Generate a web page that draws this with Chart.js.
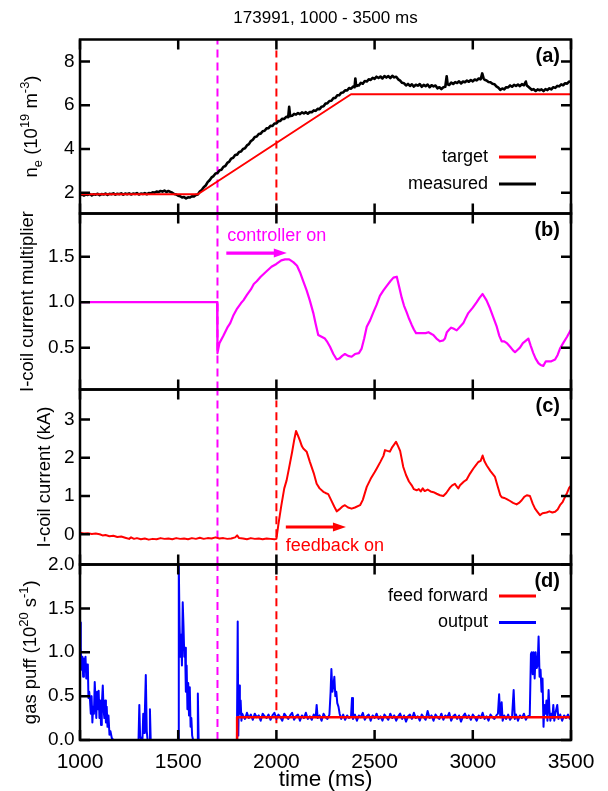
<!DOCTYPE html>
<html><head><meta charset="utf-8">
<script src="https://cdn.jsdelivr.net/npm/chart.js@4.4.0/dist/chart.umd.min.js"></script>
<style>
html,body{margin:0;padding:0;background:#fff;}
#wrap{position:relative;width:608px;height:791px;background:#fff;}
canvas{position:absolute;left:0;top:0;}
</style></head><body><div id="wrap">
<canvas id="ca" width="608" height="791"></canvas>
<canvas id="cb" width="608" height="791"></canvas>
<canvas id="cc" width="608" height="791"></canvas>
<canvas id="cd" width="608" height="791"></canvas>
</div>
<script>
// ---------------- data ----------------
const xTicks = [1000, 1500, 2000, 2500, 3000, 3500];
const densityTicks = [2, 4, 6, 8];
const multiplierTicks = [0.5, 1.0, 1.5];
const currentTicks = [0, 1, 2, 3];
const gasTicks = [0, 0.5, 1.0, 1.5, 2.0];
const controllerOnTime = 1700;
const feedbackOnTime = 2000;

const densityTarget = [[1000,1.93],[1600,1.93],[2380,6.5],[3500,6.5]];
const densityMeasured = [
[1000,1.88],[1010,1.93],[1020,1.87],[1030,1.92],[1040,1.90],[1050,1.94],[1060,1.88],[1070,1.93],[1080,1.91],[1090,1.95],
[1100,1.89],[1110,1.94],[1120,1.92],[1130,1.96],[1140,1.90],[1150,1.95],[1160,1.93],[1170,1.97],[1180,1.91],[1190,1.95],
[1200,1.93],[1210,1.97],[1220,1.91],[1230,1.96],[1240,1.93],[1250,1.97],[1260,1.92],[1270,1.96],[1280,1.94],[1290,1.98],
[1300,1.92],[1310,1.96],[1320,1.94],[1330,1.98],[1340,1.93],[1350,1.98],[1360,1.97],[1370,2.02],[1380,2.00],[1390,2.05],
[1400,2.03],[1410,2.08],[1420,2.05],[1430,2.10],[1440,2.03],[1450,2.08],[1460,2.04],[1470,2.00],[1480,1.94],[1490,1.92],
[1500,1.86],[1510,1.84],[1520,1.78],[1530,1.80],[1540,1.74],[1550,1.79],[1560,1.78],[1570,1.84],[1580,1.83],[1590,1.90],
[1600,1.92],[1610,2.05],[1620,2.12],[1630,2.25],[1640,2.33],[1650,2.48],[1660,2.57],[1670,2.70],[1680,2.76],[1690,2.88],
[1700,2.90],[1710,3.02],[1720,3.05],[1730,3.18],[1740,3.22],[1750,3.36],[1760,3.42],[1770,3.56],[1780,3.60],[1790,3.72],
[1800,3.74],[1810,3.86],[1820,3.88],[1830,4.00],[1840,4.03],[1850,4.16],[1860,4.22],[1870,4.36],[1880,4.42],[1890,4.55],
[1900,4.57],[1910,4.68],[1920,4.70],[1930,4.81],[1940,4.83],[1950,4.94],[1960,4.95],[1970,5.06],[1980,5.05],[1990,5.16],
[2000,5.16],[2010,5.27],[2020,5.28],[2030,5.38],[2040,5.37],[2050,5.47],[2060,5.45],[2065,5.92],[2070,5.50],[2080,5.52],
[2090,5.60],[2100,5.57],[2110,5.64],[2120,5.59],[2130,5.67],[2140,5.62],[2150,5.68],[2160,5.61],[2170,5.69],[2180,5.68],
[2190,5.76],[2200,5.74],[2210,5.83],[2220,5.82],[2230,5.93],[2240,5.95],[2250,6.07],[2260,6.09],[2270,6.19],[2280,6.20],
[2290,6.32],[2300,6.33],[2310,6.45],[2320,6.45],[2330,6.57],[2340,6.58],[2350,6.68],[2360,6.67],[2370,6.78],[2380,6.75],
[2390,6.85],[2398,6.82],[2402,7.22],[2406,6.88],[2410,6.92],[2420,6.90],[2430,7.02],[2440,6.98],[2450,7.10],[2460,7.08],
[2470,7.18],[2480,7.15],[2490,7.25],[2500,7.20],[2510,7.30],[2520,7.24],[2530,7.31],[2540,7.22],[2550,7.33],[2560,7.26],
[2570,7.33],[2580,7.24],[2590,7.34],[2600,7.27],[2610,7.30],[2620,7.18],[2630,7.12],[2640,7.02],[2650,7.00],[2660,6.90],
[2670,6.97],[2680,6.88],[2690,6.95],[2700,6.85],[2710,6.93],[2720,6.89],[2730,6.96],[2740,6.84],[2750,6.93],[2760,6.87],
[2770,6.94],[2780,6.82],[2790,6.91],[2800,6.86],[2810,6.90],[2820,6.77],[2830,6.82],[2840,6.73],[2850,6.82],[2860,6.84],
[2867,7.32],[2872,6.95],[2880,6.92],[2890,7.03],[2900,6.97],[2910,7.05],[2920,7.01],[2930,7.09],[2940,6.99],[2950,7.08],
[2960,7.05],[2970,7.12],[2980,7.07],[2990,7.15],[3000,7.09],[3010,7.17],[3020,7.13],[3030,7.22],[3040,7.18],[3048,7.45],
[3055,7.22],[3060,7.16],[3070,7.13],[3080,7.06],[3090,7.05],[3100,6.98],[3110,6.96],[3120,6.86],[3130,6.80],[3140,6.70],
[3150,6.76],[3160,6.72],[3170,6.82],[3180,6.81],[3190,6.90],[3200,6.84],[3210,6.93],[3220,6.88],[3230,6.94],[3240,6.87],
[3250,6.96],[3260,6.91],[3270,7.08],[3275,6.90],[3280,6.86],[3290,6.78],[3300,6.70],[3310,6.73],[3320,6.65],[3330,6.72],
[3340,6.68],[3350,6.72],[3360,6.64],[3370,6.73],[3380,6.69],[3390,6.77],[3400,6.72],[3410,6.82],[3420,6.79],[3430,6.88],
[3440,6.86],[3450,6.95],[3460,6.91],[3470,7.00],[3480,6.98],[3490,7.08],[3500,7.06]];

const coilMultiplier = [
[1000,1.0],[1698,1.0],[1700,0.44],[1710,0.55],[1730,0.63],[1750,0.72],[1765,0.77],[1780,0.85],[1800,0.93],[1820,0.99],
[1832,1.02],[1850,1.08],[1870,1.14],[1885,1.20],[1900,1.23],[1920,1.28],[1950,1.34],[1975,1.39],[2000,1.42],[2025,1.46],
[2044,1.47],[2065,1.47],[2086,1.44],[2105,1.40],[2120,1.33],[2137,1.23],[2154,1.13],[2170,1.02],[2188,0.88],[2200,0.76],
[2213,0.64],[2230,0.62],[2247,0.60],[2260,0.56],[2273,0.51],[2290,0.43],[2307,0.37],[2320,0.38],[2335,0.41],[2349,0.43],
[2365,0.41],[2383,0.40],[2400,0.43],[2420,0.44],[2434,0.49],[2447,0.60],[2460,0.73],[2477,0.80],[2494,0.89],[2510,0.97],
[2527,1.07],[2545,1.13],[2562,1.18],[2580,1.23],[2596,1.27],[2613,1.28],[2625,1.17],[2638,1.05],[2650,0.96],[2663,0.89],
[2675,0.82],[2689,0.75],[2700,0.70],[2711,0.66],[2740,0.66],[2760,0.66],[2774,0.67],[2790,0.65],[2799,0.64],[2815,0.60],
[2833,0.57],[2850,0.58],[2858,0.60],[2868,0.67],[2880,0.70],[2890,0.72],[2901,0.71],[2918,0.69],[2935,0.73],[2952,0.77],
[2965,0.83],[2977,0.88],[3000,0.94],[3020,1.00],[3035,1.05],[3050,1.09],[3070,1.02],[3088,0.93],[3105,0.83],[3122,0.73],
[3135,0.63],[3147,0.57],[3160,0.57],[3173,0.55],[3190,0.51],[3205,0.47],[3215,0.45],[3230,0.48],[3240,0.50],[3255,0.55],
[3266,0.57],[3283,0.60],[3295,0.52],[3308,0.44],[3320,0.38],[3334,0.33],[3345,0.31],[3359,0.30],[3372,0.35],[3385,0.35],
[3400,0.35],[3419,0.37],[3432,0.42],[3444,0.49],[3460,0.55],[3480,0.62],[3500,0.70]];

const coilCurrent = [
[1000,0.04],[1020,0.02],[1040,0.03],[1060,0.01],[1080,0.02],[1100,0.0],[1115,-0.03],[1130,-0.02],[1150,-0.05],[1170,-0.04],
[1190,-0.07],[1210,-0.06],[1230,-0.09],[1250,-0.12],[1260,-0.08],[1275,-0.12],[1290,-0.10],[1310,-0.13],[1330,-0.11],[1350,-0.14],
[1370,-0.12],[1390,-0.13],[1410,-0.10],[1430,-0.12],[1450,-0.11],[1470,-0.13],[1490,-0.10],[1510,-0.12],[1530,-0.11],[1550,-0.13],
[1570,-0.10],[1590,-0.12],[1610,-0.09],[1630,-0.12],[1650,-0.10],[1670,-0.11],[1690,-0.08],[1710,-0.11],[1730,-0.10],[1750,-0.12],
[1770,-0.11],[1790,-0.08],[1800,-0.03],[1810,-0.10],[1830,-0.11],[1850,-0.13],[1870,-0.10],[1890,-0.12],[1910,-0.11],[1930,-0.13],
[1950,-0.11],[1970,-0.12],[1990,-0.13],[2000,-0.12],[2010,0.25],[2025,0.75],[2040,1.20],[2052,1.41],[2065,1.75],[2080,2.15],
[2090,2.45],[2100,2.70],[2110,2.58],[2120,2.45],[2130,2.30],[2137,2.24],[2154,2.16],[2170,1.90],[2190,1.60],[2205,1.32],
[2220,1.20],[2239,1.11],[2250,1.08],[2264,1.05],[2280,0.88],[2295,0.72],[2307,0.60],[2320,0.65],[2335,0.72],[2349,0.76],
[2365,0.70],[2383,0.67],[2400,0.70],[2426,0.76],[2440,0.90],[2460,1.24],[2480,1.45],[2500,1.62],[2511,1.72],[2530,1.90],
[2545,2.05],[2553,2.20],[2565,2.18],[2578,2.16],[2590,2.28],[2600,2.35],[2609,2.42],[2620,2.30],[2630,2.18],[2646,1.76],
[2660,1.55],[2675,1.38],[2689,1.28],[2700,1.18],[2714,1.15],[2725,1.18],[2735,1.12],[2745,1.20],[2755,1.13],[2770,1.17],
[2785,1.12],[2800,1.10],[2816,1.06],[2833,1.02],[2850,1.00],[2865,1.08],[2884,1.22],[2895,1.28],[2909,1.32],[2918,1.25],
[2926,1.20],[2935,1.28],[2943,1.32],[2955,1.38],[2969,1.43],[2985,1.58],[3003,1.72],[3015,1.80],[3028,1.89],[3040,1.92],
[3050,2.06],[3060,1.90],[3071,1.80],[3090,1.65],[3113,1.50],[3125,1.28],[3140,1.02],[3147,0.97],[3160,0.95],[3173,0.92],
[3190,0.87],[3205,0.82],[3223,0.78],[3235,0.82],[3249,0.89],[3262,0.98],[3275,1.02],[3291,1.00],[3305,0.80],[3317,0.67],
[3330,0.58],[3342,0.50],[3355,0.55],[3376,0.57],[3390,0.60],[3405,0.57],[3419,0.59],[3432,0.65],[3444,0.76],[3458,0.85],
[3469,0.97],[3480,1.08],[3491,1.22],[3500,1.27]];

const gasFeedForward = [[1800,0],[1800,0.26],[3500,0.26]];
const gasOutput = [
[1000,1.34],[1004,1.05],[1008,0.80],[1012,0.95],[1016,0.72],[1020,0.93],[1024,0.78],[1028,0.95],[1032,0.70],[1036,0.86],
[1040,0.85],[1043,0.48],[1047,0.55],[1051,0.45],[1055,0.30],[1059,0.50],[1063,0.20],[1067,0.38],[1071,0.30],[1075,0.66],
[1079,0.45],[1083,0.25],[1087,0.55],[1091,0.35],[1095,0.56],[1099,0.25],[1103,0.45],[1107,0.17],[1111,0.40],[1116,0.62],
[1120,0.35],[1124,0.25],[1128,0.45],[1132,0.20],[1136,0.38],[1140,0.15],[1145,0.28],[1150,0.06],[1155,0.10],[1162,0.02],
[1170,0.0],[1298,0.0],[1302,0.40],[1306,0.05],[1311,0.0],[1318,0.0],[1322,0.30],[1326,0.08],[1330,0.30],[1335,0.74],
[1340,0.10],[1344,0.0],[1352,0.0],[1356,0.35],[1360,0.0],[1499,0.0],[1503,1.99],[1507,1.30],[1511,0.95],[1515,1.20],
[1519,0.85],[1523,1.57],[1527,1.30],[1531,0.95],[1535,1.05],[1539,0.55],[1543,0.85],[1547,0.35],[1551,0.65],[1555,0.28],
[1559,0.60],[1563,0.15],[1567,0.25],[1571,0.05],[1576,0.0],[1596,0.0],[1600,0.53],[1604,0.0],[1799,0.0],[1803,1.35],
[1806,0.05],[1810,0.62],[1814,0.30],[1818,0.45],[1822,0.22],[1826,0.30],
[1830,0.28],[1840,0.24],[1850,0.31],[1860,0.25],[1870,0.29],[1880,0.23],[1890,0.30],[1900,0.26],[1910,0.28],[1920,0.22],
[1930,0.30],[1940,0.27],[1950,0.25],[1960,0.29],[1970,0.23],[1980,0.28],[1990,0.31],[2000,0.24],[2010,0.29],[2020,0.26],
[2030,0.22],[2040,0.30],[2050,0.27],[2060,0.24],[2070,0.28],[2080,0.31],[2090,0.23],[2100,0.27],[2110,0.29],[2120,0.22],
[2130,0.28],[2140,0.25],[2150,0.31],[2160,0.24],[2170,0.27],[2180,0.23],[2190,0.29],[2200,0.26],[2205,0.40],[2210,0.25],
[2220,0.28],[2230,0.22],[2240,0.30],[2250,0.26],[2260,0.24],[2270,0.29],[2276,0.55],[2280,0.81],[2285,0.55],[2290,0.62],
[2295,0.72],[2300,0.50],[2305,0.55],[2310,0.42],[2316,0.38],[2322,0.30],[2330,0.24],[2340,0.29],[2350,0.23],[2360,0.28],
[2370,0.25],[2380,0.27],[2385,0.48],[2390,0.24],[2400,0.29],[2410,0.22],[2420,0.28],[2430,0.26],[2440,0.31],[2450,0.23],
[2460,0.27],[2470,0.29],[2480,0.22],[2490,0.28],[2500,0.25],[2510,0.30],[2520,0.24],[2530,0.27],[2540,0.22],[2550,0.29],
[2560,0.26],[2570,0.23],[2580,0.30],[2590,0.25],[2600,0.28],[2610,0.22],[2620,0.27],[2630,0.30],[2640,0.24],[2650,0.28],
[2660,0.21],[2670,0.27],[2680,0.29],[2690,0.24],[2700,0.31],[2710,0.25],[2720,0.27],[2730,0.22],[2740,0.29],[2750,0.26],
[2760,0.23],[2770,0.33],[2780,0.25],[2790,0.28],[2800,0.22],[2810,0.29],[2820,0.26],[2830,0.24],[2840,0.30],[2850,0.23],
[2860,0.28],[2870,0.26],[2880,0.31],[2890,0.22],[2900,0.27],[2910,0.29],[2920,0.24],[2930,0.28],[2940,0.21],[2950,0.27],
[2960,0.30],[2970,0.25],[2980,0.28],[2990,0.23],[3000,0.29],[3010,0.26],[3020,0.22],[3030,0.28],[3040,0.25],[3050,0.31],
[3060,0.24],[3070,0.27],[3080,0.22],[3090,0.29],[3100,0.26],[3110,0.24],[3120,0.28],[3128,0.30],[3134,0.52],[3140,0.26],
[3147,0.43],[3152,0.22],[3160,0.28],[3170,0.24],[3180,0.29],[3190,0.23],[3200,0.27],[3208,0.57],[3214,0.24],[3220,0.29],
[3230,0.22],[3240,0.28],[3250,0.25],[3260,0.30],[3270,0.23],[3280,0.27],[3290,0.28],[3296,0.98],[3300,1.00],[3305,0.75],
[3310,1.00],[3315,0.70],[3320,1.00],[3325,0.82],[3330,0.85],[3335,1.18],[3340,0.72],[3345,0.80],[3350,0.55],[3355,0.70],
[3360,0.15],[3365,0.40],[3370,0.30],[3375,0.45],[3380,0.22],[3386,0.57],[3390,0.35],[3395,0.22],[3400,0.30],[3405,0.25],
[3410,0.40],[3415,0.22],[3420,0.30],[3430,0.40],[3436,0.24],[3445,0.29],[3455,0.22],[3465,0.28],[3475,0.25],[3485,0.29],
[3495,0.24],[3500,0.27]];

// ---------------- styling ----------------
const FONT = "'Liberation Sans', Arial, Helvetica, sans-serif";
const RED = '#ff0000', BLACK = '#000000', MAGENTA = '#ff00ff', BLUE = '#0000ff';
Chart.defaults.font.family = FONT;
Chart.defaults.color = '#000';

const toXY = pairs => pairs.map(([x, y]) => ({x, y}));
const line = (pairs, color, width) => ({data: toXY(pairs), borderColor: color, backgroundColor: color,
  borderWidth: width, borderJoinStyle: 'round', pointRadius: 0, fill: false, tension: 0});
const vline = (t, y0, y1, color) => ({data: [{x: t, y: y0}, {x: t, y: y1}], borderColor: color,
  borderWidth: 2, borderDash: [8, 5], pointRadius: 0, fill: false});

function drawRich(ctx, segs, cx, cy, size) {
  ctx.save();
  ctx.translate(cx, cy);
  ctx.rotate(-Math.PI / 2);
  ctx.textBaseline = 'alphabetic';
  ctx.textAlign = 'left';
  ctx.fillStyle = '#000';
  const fontFor = s => `${(s.sup || s.sub) ? size * 0.7 : size}px ${FONT}`;
  let total = 0;
  segs.forEach(s => { ctx.font = fontFor(s); total += ctx.measureText(s.t).width; });
  let x = -total / 2;
  segs.forEach(s => {
    ctx.font = fontFor(s);
    const dy = s.sup ? -size * 0.42 : (s.sub ? size * 0.25 : 0);
    ctx.fillText(s.t, x, dy);
    x += ctx.measureText(s.t).width;
  });
  ctx.restore();
}

function decor(cfg) {
  return {
    id: 'decor',
    afterDatasetsDraw(chart) {
      const ctx = chart.ctx, a = chart.chartArea, xs = chart.scales.x, ys = chart.scales.y;
      ctx.save();
      (cfg.notes || []).forEach(n => {
        ctx.fillStyle = n.color; ctx.strokeStyle = n.color;
        ctx.font = `${n.size}px ${FONT}`;
        ctx.textAlign = 'left'; ctx.textBaseline = 'middle';
        ctx.fillText(n.text, xs.getPixelForValue(n.x), ys.getPixelForValue(n.y));
        const x1 = xs.getPixelForValue(n.arrow[0]), x2 = xs.getPixelForValue(n.arrow[1]);
        const ay = ys.getPixelForValue(n.arrow[2]);
        ctx.lineWidth = 3.2;
        ctx.beginPath(); ctx.moveTo(x1, ay); ctx.lineTo(x2 - 10, ay); ctx.stroke();
        ctx.beginPath(); ctx.moveTo(x2, ay); ctx.lineTo(x2 - 13, ay - 4.5); ctx.lineTo(x2 - 13, ay + 4.5);
        ctx.closePath(); ctx.fill();
      });
      if (cfg.legend) {
        cfg.legend.forEach((r, i) => {
          const y = a.top + r.dy;
          ctx.fillStyle = '#000'; ctx.font = `18px ${FONT}`;
          ctx.textAlign = 'right'; ctx.textBaseline = 'middle';
          ctx.fillText(r.label, a.right - 83, y);
          ctx.strokeStyle = r.color; ctx.lineWidth = 3;
          ctx.beginPath(); ctx.moveTo(a.right - 72, y); ctx.lineTo(a.right - 35, y); ctx.stroke();
        });
      }
      ctx.fillStyle = '#000'; ctx.font = `bold 20px ${FONT}`;
      ctx.textAlign = 'right'; ctx.textBaseline = 'middle';
      ctx.fillText(cfg.tag, a.right - 11, a.top + 17);
      ctx.strokeStyle = '#000'; ctx.lineWidth = 2.5;
      ctx.strokeRect(a.left, a.top, a.right - a.left, a.bottom - a.top);
      ctx.beginPath();
      xTicks.forEach(v => {
        const px = xs.getPixelForValue(v);
        ctx.moveTo(px, a.top); ctx.lineTo(px, a.top + 10);
        ctx.moveTo(px, a.bottom); ctx.lineTo(px, a.bottom - 10);
      });
      cfg.yTicks.forEach(v => {
        const py = ys.getPixelForValue(v);
        ctx.moveTo(a.left, py); ctx.lineTo(a.left + 10, py);
        ctx.moveTo(a.right, py); ctx.lineTo(a.right - 10, py);
      });
      ctx.stroke();
      drawRich(ctx, cfg.yTitle, a.left - cfg.titleOffset, (a.top + a.bottom) / 2, 18.5);
      ctx.restore();
    }
  };
}

function makeChart(id, o) {
  return new Chart(document.getElementById(id), {
    type: 'line',
    data: {datasets: o.datasets},
    options: {
      responsive: false, animation: false, devicePixelRatio: 1, events: [],
      layout: {padding: {left: 0, right: 37, top: o.padTop, bottom: o.padBottom}},
      plugins: {legend: {display: false}, tooltip: {enabled: false}, title: o.title || {display: false}},
      scales: {
        x: {type: 'linear', min: 1000, max: 3500, display: !!o.showX,
          afterBuildTicks: s => { s.ticks = xTicks.map(v => ({value: v})); },
          afterFit: s => { s.height = o.showX ? 51 : 0; },
          grid: {display: false, drawTicks: false, tickLength: 0}, border: {display: false},
          ticks: {font: {size: 21}, color: '#000', padding: 10, maxRotation: 0, autoSkip: false, callback: v => String(v)},
          title: {display: !!o.showX, text: 'time (ms)', font: {size: 22.5}, color: '#000', padding: {top: 0, bottom: -2.5}}},
        y: {type: 'linear', min: o.yMin, max: o.yMax,
          afterBuildTicks: s => { s.ticks = o.yTicks.map(v => ({value: v})); },
          afterFit: s => { s.width = 80; },
          grid: {display: false, drawTicks: false, tickLength: 0}, border: {display: false},
          ticks: {font: {size: 19}, color: '#000', padding: 5.5, callback: v => Number(v).toFixed(o.yDec)}}
      }
    },
    plugins: [decor(o.decor)]
  });
}

// (a) density
makeChart('ca', {
  yMin: 1.05, yMax: 9, yTicks: densityTicks, yDec: 0, padTop: 0, padBottom: 791 - 213.5,
  title: {display: true, text: '173991, 1000 - 3500 ms', font: {size: 17, weight: 'normal'}, color: '#000',
          padding: {top: 8.5, bottom: 10.6}, fullSize: false},
  datasets: [
    line(densityTarget, RED, 2),
    line(densityMeasured, BLACK, 2.6),
    vline(controllerOnTime, 1.05, 9, MAGENTA),
    vline(feedbackOnTime, 1.05, 8.5, RED)
  ],
  decor: {tag: '(a)', yTicks: densityTicks, titleOffset: 43,
    yTitle: [{t: 'n'}, {t: 'e', sub: true}, {t: ' (10'}, {t: '19', sup: true}, {t: ' m'}, {t: '-3', sup: true}, {t: ')'}],
    legend: [{label: 'target', color: RED, dy: 117.5}, {label: 'measured', color: BLACK, dy: 144.5}]}
});

// (b) multiplier
makeChart('cb', {
  yMin: 0.04, yMax: 1.975, yTicks: multiplierTicks, yDec: 1, padTop: 213.5, padBottom: 791 - 389.5,
  datasets: [
    line(coilMultiplier, MAGENTA, 2.2),
    vline(controllerOnTime, 0.04, 1.975, MAGENTA)
  ],
  decor: {tag: '(b)', yTicks: multiplierTicks, titleOffset: 47,
    yTitle: [{t: 'I-coil current multiplier'}],
    notes: [{text: 'controller on', color: MAGENTA, size: 18, x: 1750, y: 1.73, arrow: [1745, 2053, 1.54]}]}
});

// (c) current
makeChart('cc', {
  yMin: -0.79, yMax: 3.785, yTicks: currentTicks, yDec: 0, padTop: 389.5, padBottom: 791 - 564.5,
  datasets: [
    line(coilCurrent, RED, 2),
    vline(controllerOnTime, -0.79, 3.785, MAGENTA),
    vline(feedbackOnTime, -0.42, 3.5, RED)
  ],
  decor: {tag: '(c)', yTicks: currentTicks, titleOffset: 30.5,
    yTitle: [{t: 'I-coil current (kA)'}],
    notes: [{text: 'feedback on', color: RED, size: 18, x: 2048, y: -0.30, arrow: [2048, 2354, 0.19]}]}
});

// (d) gas puff
makeChart('cd', {
  yMin: 0, yMax: 2, yTicks: gasTicks, yDec: 1, padTop: 564.5, padBottom: 0, showX: true,
  datasets: [
    line(gasFeedForward, RED, 2.5),
    line(gasOutput, BLUE, 2),
    vline(controllerOnTime, 0, 2, MAGENTA),
    vline(feedbackOnTime, 0.19, 1.87, RED)
  ],
  decor: {tag: '(d)', yTicks: gasTicks, titleOffset: 44,
    yTitle: [{t: 'gas puff (10'}, {t: '20', sup: true}, {t: ' s'}, {t: '-1', sup: true}, {t: ')'}],
    legend: [{label: 'feed forward', color: RED, dy: 31.5}, {label: 'output', color: BLUE, dy: 58}]}
});
</script>
</body></html>
